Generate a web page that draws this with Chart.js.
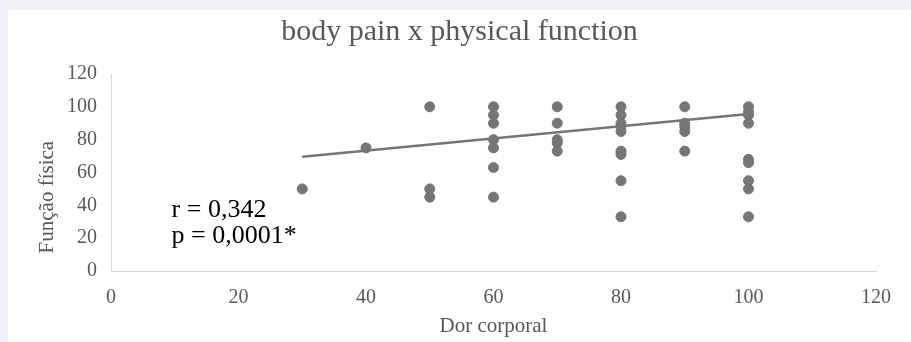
<!DOCTYPE html>
<html>
<head>
<meta charset="utf-8">
<script src="https://cdn.jsdelivr.net/npm/chart.js@4"></script>
<style>
  html, body { margin: 0; padding: 0; background: #f0f2f7; }
  .card { position: absolute; left: 8px; top: 10px; width: 903px; height: 332px; background: #fff; }
</style>
</head>
<body>
<div class="card"><canvas id="scatter" width="903" height="332"></canvas></div>
<script>
// dor corporal (x) e função física (y)
const painX = [30, 40, 50, 50, 50,
    60, 60, 60, 60, 60, 60, 60,
    70, 70, 70, 70, 70,
    80, 80, 80, 80, 80, 80, 80, 80, 80,
    90, 90, 90, 90, 90,
    100, 100, 100, 100, 100, 100, 100, 100, 100];
const functionY = [50, 75, 100, 50, 45,
    100, 95, 90, 80, 75, 63, 45,
    100, 90, 80, 78, 73,
    100, 95, 90, 88, 85, 73, 71, 55, 33,
    100, 90, 88, 85, 73,
    100, 97, 95, 90, 68, 66, 55, 50, 33];
const trendX = [30, 100];
const trendY = [69.6, 95.6];
const statsLines = ["r = 0,342", "p = 0,0001*"];
const chartTitle = "body pain x physical function";
const yTitle = "Função física";

const grey = "#767676";
const serif = "'Liberation Serif', 'Times New Roman', serif";

// title, y title (sits a bit low in the original) and the r / p note
const extraText = {
    id: "extraText",
    afterDraw(chart) {
        const { ctx, scales } = chart;
        ctx.save();
        ctx.textBaseline = "middle";

        ctx.fillStyle = "#595959";
        ctx.textAlign = "center";
        ctx.font = "30px " + serif;
        ctx.fillText(chartTitle, chart.width / 2, 22);

        ctx.font = "21px " + serif;
        ctx.translate(39, scales.y.getPixelForValue(45));
        ctx.rotate(-Math.PI / 2);
        ctx.fillText(yTitle, 0, 0);
        ctx.restore();

        ctx.save();
        ctx.textBaseline = "middle";
        ctx.font = "26px " + serif;
        ctx.fillStyle = "#000";
        const x = scales.x.getPixelForValue(9.5);
        statsLines.forEach((t, i) => {
            ctx.fillText(t, x, scales.y.getPixelForValue(37 - i * 16));
        });
        ctx.restore();
    }
};

new Chart(document.getElementById("scatter"), {
    type: "scatter",
    data: {
        datasets: [
            {
                label: "Função física",
                data: painX.map((x, i) => ({ x, y: functionY[i] })),
                backgroundColor: grey,
                borderColor: grey,
                pointRadius: 5,
                pointHoverRadius: 5,
            },
            {
                type: "line",
                label: "Tendência",
                data: trendX.map((x, i) => ({ x, y: trendY[i] })),
                borderColor: grey,
                borderWidth: 2.5,
                pointRadius: 0,
                fill: false,
            },
        ],
    },
    options: {
        responsive: false,
        animation: false,
        layout: { padding: { left: 0, right: 35, top: 64, bottom: 0 } },
        plugins: {
            legend: { display: false },
            tooltip: { enabled: false },
            title: { display: false },
        },
        scales: {
            x: {
                type: "linear",
                min: 0,
                max: 120,
                grid: { display: false, drawTicks: false },
                border: { color: "#d9d9d9", width: 1 },
                ticks: { stepSize: 20, color: "#595959", padding: 15, font: { family: serif, size: 20 } },
                title: { display: true, text: "Dor corporal", color: "#595959", padding: { top: 4, bottom: 3 }, font: { family: serif, size: 21 } },
                afterFit(scale) { scale.height = 71; },
            },
            y: {
                min: 0,
                max: 120,
                grid: { display: false, drawTicks: false },
                border: { color: "#d9d9d9", width: 1 },
                ticks: { stepSize: 20, color: "#595959", padding: 14, font: { family: serif, size: 20 } },
                afterFit(scale) { scale.width = 103; },
            },
        },
    },
    plugins: [extraText],
});
</script>
</body>
</html>
